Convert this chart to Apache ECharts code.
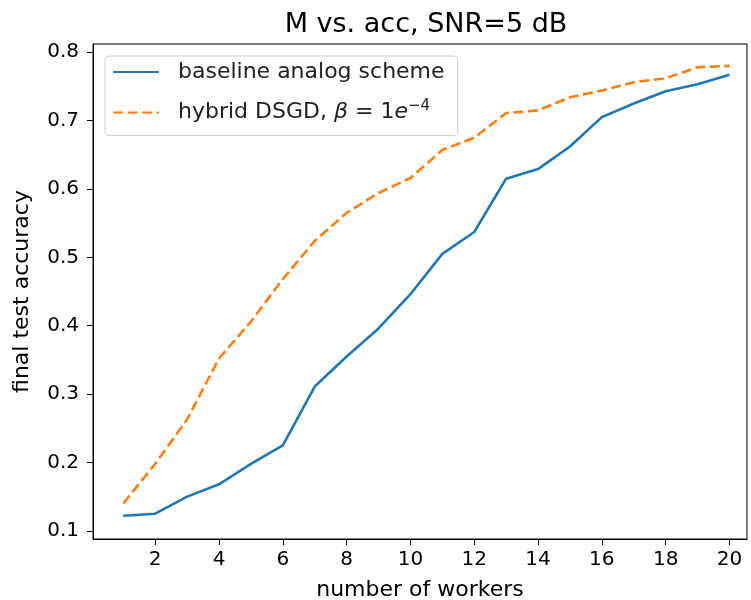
<!DOCTYPE html>
<html><head><meta charset="utf-8">
<script src="https://cdn.jsdelivr.net/npm/echarts@6/dist/echarts.min.js"></script>
<style>html,body{margin:0;padding:0;background:#fff}#c{width:751px;height:600px}</style>
</head><body><div id="c"></div>
<script>
const workers = [1,2,3,4,5,6,7,8,9,10,11,12,13,14,15,16,17,18,19,20];
const baseline = [0.122,0.125,0.150,0.168,0.198,0.225,0.311,0.355,0.396,0.446,0.505,0.537,0.615,0.629,0.662,0.705,0.725,0.743,0.753,0.767];
const hybrid = [0.140,0.198,0.263,0.352,0.406,0.468,0.524,0.565,0.594,0.616,0.657,0.675,0.711,0.715,0.734,0.744,0.756,0.762,0.778,0.780];
const xTicks = [2,4,6,8,10,12,14,16,18,20];
const yTicks = [0.1,0.2,0.3,0.4,0.5,0.6,0.7,0.8];
const names = ['baseline analog scheme','hybrid DSGD, β = 1e−4'];

const chart = echarts.init(document.getElementById('c'));
const font = 'DejaVu Sans';
chart.setOption({
  animation:false,
  title:{text:'M vs. acc, SNR=5 dB',left:421,top:6,textAlign:'center',
    textStyle:{fontFamily:font,fontSize:27,fontWeight:'normal',color:'#000'}},
  grid:{left:93,right:4,top:44,bottom:61,containLabel:false,outerBoundsMode:'none'},
  legend:{left:105,top:56,orient:'vertical',itemWidth:46,itemHeight:16,itemGap:16,
    padding:[5,13,12,7],borderColor:'#d0d0d0',borderWidth:1,borderRadius:4,
    data:names,
    itemStyle:{opacity:0},
    formatter:function(n){
      if(n===names[1]) return '{a|hybrid DSGD, }{i|β}{a| = 1}{i|e}{s|−4}';
      return '{a|'+n+'}';
    },
    textStyle:{fontFamily:font,fontSize:22,color:'#222',padding:[0,0,0,14],
      rich:{a:{fontFamily:font,fontSize:22,color:'#222'},
        i:{fontFamily:font,fontSize:22,fontStyle:'italic',color:'#222'},
        s:{fontFamily:font,fontSize:15,color:'#222',verticalAlign:'top',padding:[0,0,12,0]}}}},
  xAxis:{type:'value',min:0.05,max:20.55,
    name:'number of workers',nameLocation:'middle',nameGap:40,
    nameTextStyle:{fontFamily:font,fontSize:22,color:'#000'},
    axisLine:{lineStyle:{color:'#000',width:1}},
    axisTick:{customValues:xTicks,length:6,lineStyle:{color:'#000'}},
    axisLabel:{customValues:xTicks,fontFamily:font,fontSize:20,color:'#000',margin:11},
    splitLine:{show:false}},
  yAxis:{type:'value',min:0.088,max:0.812,
    name:'final test accuracy',nameLocation:'middle',nameGap:60,
    nameTextStyle:{fontFamily:font,fontSize:22,color:'#000'},
    axisLine:{show:true,lineStyle:{color:'#000',width:1}},
    axisTick:{show:true,customValues:yTicks,length:6,lineStyle:{color:'#000'}},
    axisLabel:{customValues:yTicks,fontFamily:font,fontSize:20,color:'#000',margin:14,
      formatter:v=>v.toFixed(1)},
    splitLine:{show:false}},
  series:[
    {name:names[0],type:'line',symbol:'none',data:workers.map((w,i)=>[w,baseline[i]]),
      lineStyle:{color:'#1f77b4',width:2.6},itemStyle:{color:'#1f77b4'}},
    {name:names[1],type:'line',symbol:'none',data:workers.map((w,i)=>[w,hybrid[i]]),
      lineStyle:{color:'#ff7f0e',width:2.6,type:[10,4.5]},itemStyle:{color:'#ff7f0e'}}
  ],
  graphic:[{type:'rect',shape:{x:93,y:44,width:654,height:495},
    style:{fill:'none',stroke:'#000',lineWidth:1},silent:true,z:10}]
});
</script></body></html>
